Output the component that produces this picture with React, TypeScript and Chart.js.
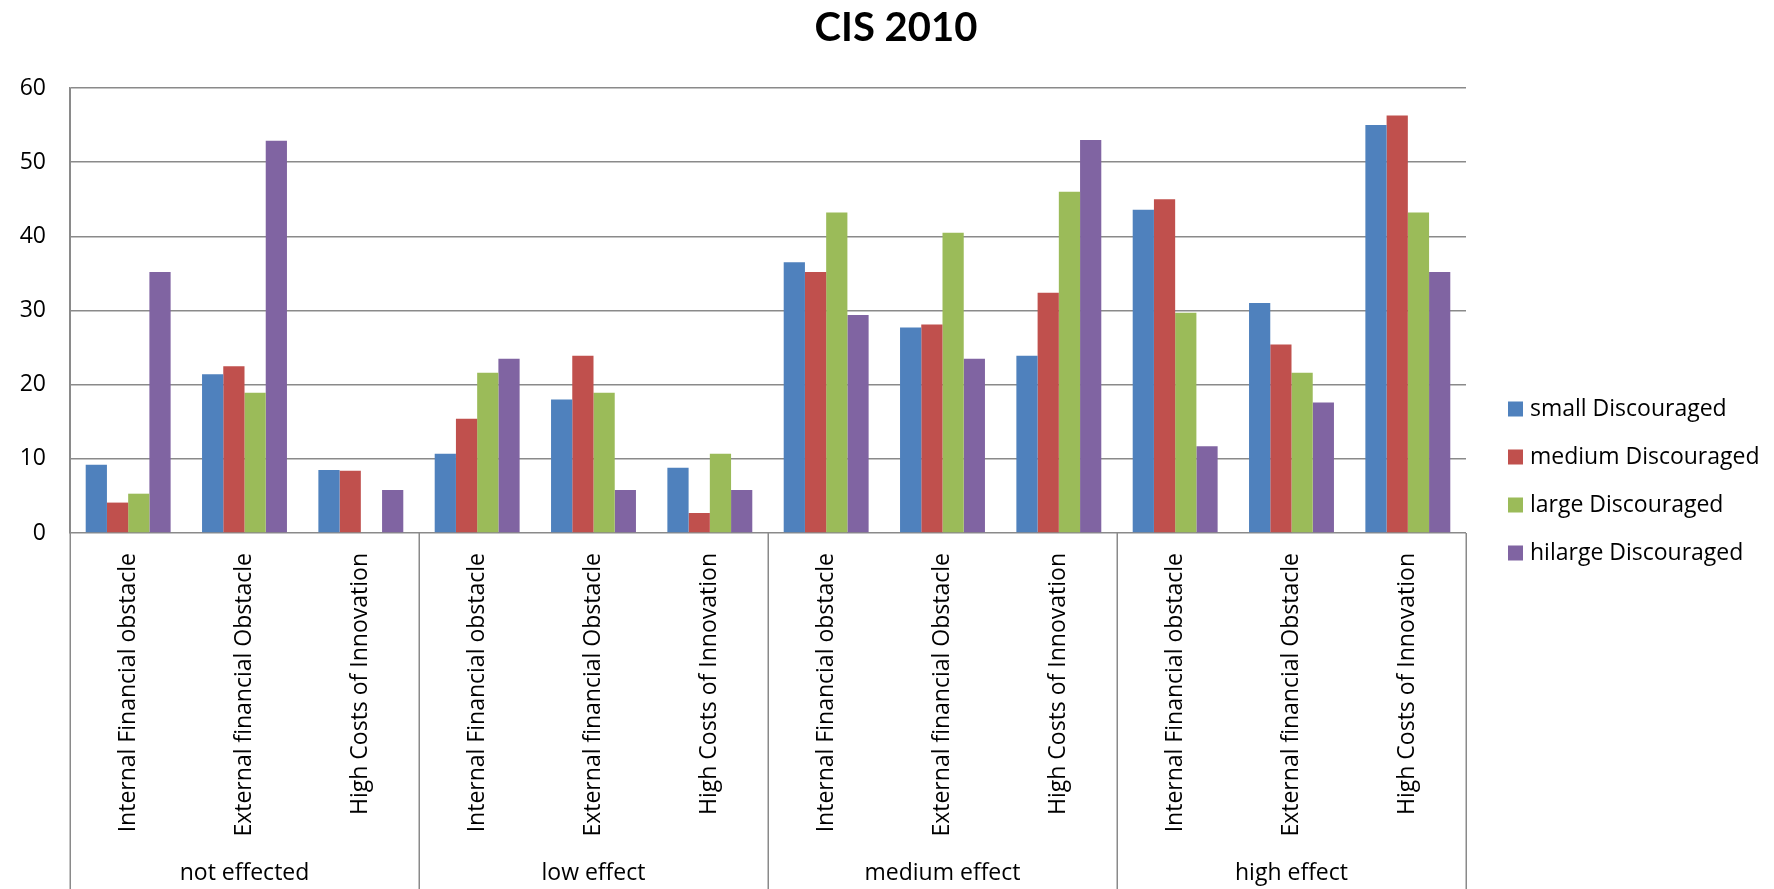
import { useEffect, useRef } from "react";
import { Chart, registerables } from "chart.js";

Chart.register(...registerables);

const title = "CIS 2010";
const groups = ["not effected", "low effect", "medium effect", "high effect"];
const obstacles = [
  "Internal Financial obstacle",
  "External financial Obstacle",
  "High Costs of Innovation",
];
const categories = groups.flatMap(() => obstacles);

const seriesNames = [
  "small Discouraged",
  "medium Discouraged",
  "large Discouraged",
  "hilarge Discouraged",
];
const seriesColors = ["#4F81BD", "#C0504D", "#9BBB59", "#8064A2"];

const smallDiscouraged = [9.2, 21.4, 8.5, 10.7, 18.0, 8.8, 36.5, 27.7, 23.9, 43.6, 31.0, 55.0];
const mediumDiscouraged = [4.1, 22.5, 8.4, 15.4, 23.9, 2.7, 35.2, 28.1, 32.4, 45.0, 25.4, 56.3];
const largeDiscouraged = [5.3, 18.9, 0, 21.6, 18.9, 10.7, 43.2, 40.5, 46.0, 29.7, 21.6, 43.2];
const hilargeDiscouraged = [35.2, 52.9, 5.8, 23.5, 5.8, 5.8, 29.4, 23.5, 53.0, 11.7, 17.6, 35.2];
const seriesValues = [smallDiscouraged, mediumDiscouraged, largeDiscouraged, hilargeDiscouraged];

const yTicks = [0, 10, 20, 30, 40, 50, 60];

const WIDTH = 1774;
const HEIGHT = 889;
const TITLE_FONT = "Lato, 'Open Sans', sans-serif";
const FONT = "'Open Sans', Lato, sans-serif";
const GRID = "#8a8a8a";

// Title, legend, group labels and group separators drawn over the bars
const decorations = {
  id: "decorations",
  afterDraw(chart: any) {
    const { ctx, chartArea, scales } = chart;
    const x = scales.x;
    ctx.save();

    // title
    ctx.fillStyle = "#000";
    ctx.font = `bold 40px ${TITLE_FONT}`;
    ctx.textAlign = "center";
    ctx.textBaseline = "middle";
    ctx.fillText(title, 896, 28);

    // axis extension and group separators
    ctx.strokeStyle = GRID;
    ctx.lineWidth = 1.5;
    for (let g = 0; g <= groups.length; g++) {
      const px = Math.round(x.getPixelForValue(g * obstacles.length - 0.5)) + 0.25;
      ctx.beginPath();
      ctx.moveTo(px, g === 0 ? chartArea.top : chartArea.bottom);
      ctx.lineTo(px, HEIGHT);
      ctx.stroke();
    }

    // group labels
    ctx.fillStyle = "#000";
    ctx.font = `23px ${FONT}`;
    ctx.textAlign = "center";
    ctx.textBaseline = "middle";
    groups.forEach((name, g) => {
      const cx = x.getPixelForValue(g * obstacles.length + (obstacles.length - 1) / 2);
      ctx.fillText(name, cx, 873);
    });

    // legend
    ctx.font = `23px ${FONT}`;
    ctx.textAlign = "left";
    chart.data.datasets.forEach((ds: any, i: number) => {
      const cy = 409 + i * 48;
      ctx.fillStyle = ds.backgroundColor;
      ctx.fillRect(1508, cy - 7.5, 15, 15);
      ctx.fillStyle = "#000";
      ctx.fillText(ds.label, 1530, cy);
    });

    ctx.restore();
  },
};

export default function App() {
  const canvasRef = useRef<HTMLCanvasElement | null>(null);

  useEffect(() => {
    document.body.style.margin = "0";
    const canvas = canvasRef.current;
    if (!canvas) return;

    const chart = new Chart(canvas, {
      type: "bar",
      data: {
        labels: categories,
        datasets: seriesNames.map((name, i) => ({
          label: name,
          data: seriesValues[i],
          backgroundColor: seriesColors[i],
          borderWidth: 0,
          categoryPercentage: 0.73,
          barPercentage: 1,
        })),
      },
      options: {
        responsive: false,
        maintainAspectRatio: false,
        animation: false,
        devicePixelRatio: 1,
        layout: { padding: { top: 88, right: 308, bottom: 0, left: 0 } },
        plugins: {
          legend: { display: false },
          title: { display: false },
          tooltip: { enabled: false },
        },
        scales: {
          x: {
            type: "category",
            grid: { display: false },
            border: { display: false },
            ticks: {
              autoSkip: false,
              minRotation: 90,
              maxRotation: 90,
              padding: 12,
              color: "#000",
              font: { family: FONT, size: 23 },
            },
            afterFit(scale: any) {
              scale.height = HEIGHT - 533;
            },
          },
          y: {
            min: 0,
            max: 60,
            afterBuildTicks(scale: any) {
              scale.ticks = yTicks.map((v) => ({ value: v }));
            },
            grid: { color: GRID, lineWidth: 1.5, drawTicks: false },
            border: { display: true, color: GRID, width: 1.5 },
            ticks: {
              padding: 24,
              color: "#000",
              font: { family: FONT, size: 23 },
            },
            afterFit(scale: any) {
              scale.width = 70;
            },
          },
        },
      },
      plugins: [decorations],
    });

    return () => chart.destroy();
  }, []);

  return (
    <div style={{ width: WIDTH, height: HEIGHT, background: "#fff" }}>
      <canvas ref={canvasRef} width={WIDTH} height={HEIGHT} />
    </div>
  );
}
